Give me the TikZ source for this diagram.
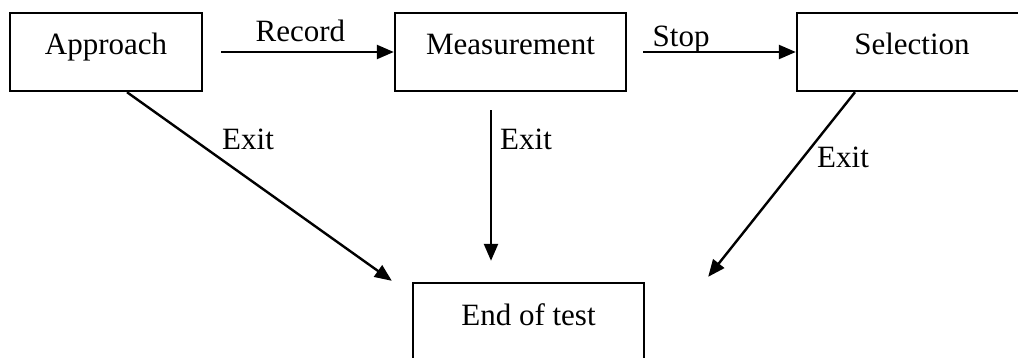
\documentclass[tikz,border=0pt]{standalone}
\usepackage{fontspec}
\setmainfont{Liberation Serif}
\usetikzlibrary{arrows.meta,calc}
\begin{document}
\begin{tikzpicture}[x=1pt,y=-1pt,
  every node/.style={font=\fontsize{31}{36}\selectfont},
  stagebox/.style={draw, line width=2.4pt, inner sep=0pt,
    text height=42pt, text depth=36pt, anchor=base},
  flow/.style={line width=2.4pt, -{Triangle[length=17pt,width=14pt]}},
  tag/.style={inner sep=0pt, anchor=base west}]
\useasboundingbox (0,0) rectangle (1018,358);
% stages
\node[stagebox, minimum width=192pt] (appr) at (106,55) {Approach};
\node[stagebox, minimum width=231pt] (meas) at (510.5,55) {Measurement};
\node[stagebox, minimum width=230pt] (sel) at (912,55) {Selection};
\node[stagebox, minimum width=231pt] (end) at (528.5,325) {End of test};
% forward transitions
\draw[flow, shorten <=18pt] (appr.east) -- (meas.west)
  node[pos=0.51, anchor=base, yshift=10pt, inner sep=0pt] (rec) {Record};
\draw[flow, shorten <=16pt] (meas.east) -- (sel.west)
  node[pos=0.32, anchor=base, yshift=5pt, inner sep=0pt] (stp) {Stop};
% exits to the end of the test
\draw[flow] ($(appr.south)+(21,0)$) -- ($(end.north west)+(-20,-1)$);
\draw[flow, shorten <=18pt, shorten >=21pt] ([xshift=-19.5pt]meas.south) -- ([xshift=-19.5pt]meas.south |- end.north);
\draw[flow] ($(sel.south)+(-57,0)$) -- ($(end.north east)+(63,-5)$);
\node[tag] (ex1) at (222,150) {Exit};
\node[tag] (ex2) at (500,150) {Exit};
\node[tag] (ex3) at (817,168) {Exit};
\end{tikzpicture}
\end{document}
